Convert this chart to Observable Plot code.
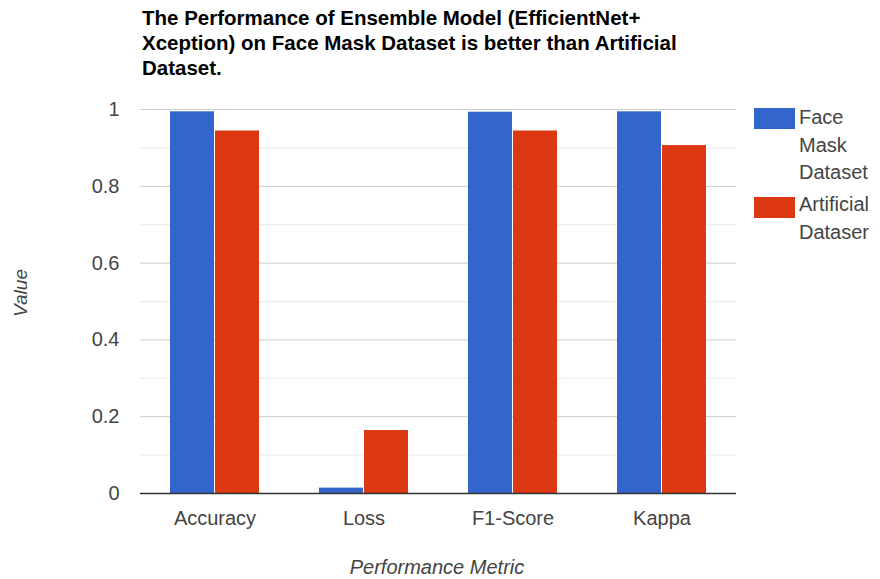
<!DOCTYPE html>
<html>
<head>
<meta charset="utf-8">
<script src="https://cdn.jsdelivr.net/npm/d3@7"></script>
<script src="https://cdn.jsdelivr.net/npm/@observablehq/plot@0.6"></script>
<style>
  html, body { margin: 0; padding: 0; background: #fff; }
  #wrap { position: relative; width: 880px; height: 579px; font-family: Arial, "Liberation Sans", sans-serif; }
  #chart { position: absolute; left: 0; top: 0; }
  .title { position: absolute; left: 142px; top: 5px; font-size: 20.5px; font-weight: bold; line-height: 25px; color: #000; white-space: nowrap; }
  .leg-sw { position: absolute; width: 41px; height: 21px; }
  .leg-tx { position: absolute; left: 799px; font-size: 20px; line-height: 27.5px; color: #444; white-space: nowrap; }
  .ylab { position: absolute; left: 21px; top: 293px; font-size: 19px; font-style: italic; color: #444; transform: translate(-50%, -50%) rotate(-90deg); white-space: nowrap; }
  .xlab { position: absolute; left: 437px; top: 557px; font-size: 20px; line-height: 20px; font-style: italic; color: #444; transform: translateX(-50%); white-space: nowrap; }
</style>
</head>
<body>
<div id="wrap">
  <div id="chart"></div>
</div>
<script>
const metrics = ["Accuracy", "Loss", "F1-Score", "Kappa"];
const seriesNames = ["Face Mask Dataset", "Artificial Dataser"];
const faceMaskValues = [0.994, 0.014, 0.993, 0.994];
const artificialValues = [0.944, 0.164, 0.944, 0.906];
const yTicks = [0, 0.2, 0.4, 0.6, 0.8, 1];
const yMinorTicks = [0.1, 0.3, 0.5, 0.7, 0.9];
const colors = ["#3366cc", "#dc3912"];

const data = [];
metrics.forEach((m, i) => {
  data.push({metric: m, series: seriesNames[0], value: faceMaskValues[i]});
  data.push({metric: m, series: seriesNames[1], value: artificialValues[i]});
});

const chart = Plot.plot({
  width: 880,
  height: 579,
  marginTop: 109,
  marginBottom: 86,
  marginLeft: 138,
  marginRight: 143,
  style: {fontSize: "20px", fontFamily: "Arial, 'Liberation Sans', sans-serif", color: "#444", background: "transparent"},
  fx: {domain: metrics, padding: 0, axis: "bottom", label: null, tickSize: 0, tickPadding: 17},
  x: {domain: seriesNames, axis: null, paddingInner: 0.033, paddingOuter: 0.64},
  y: {domain: [0, 1], ticks: yTicks, tickFormat: d => String(d), tickSize: 0, tickPadding: 21, label: null},
  color: {domain: seriesNames, range: colors},
  marks: [
    Plot.ruleY(yMinorTicks, {stroke: "#ebebeb", strokeWidth: 1}),
    Plot.ruleY(yTicks.filter(d => d > 0), {stroke: "#cccccc", strokeWidth: 1}),
    Plot.barY(data, {fx: "metric", x: "series", y: "value", fill: "series"}),
    Plot.ruleY([0], {stroke: "#333333", strokeWidth: 1.5})
  ]
});
document.getElementById("chart").appendChild(chart);

const wrap = document.getElementById("wrap");
function addDiv(cls, html, styles) {
  const d = document.createElement("div");
  d.className = cls;
  d.innerHTML = html;
  Object.assign(d.style, styles || {});
  wrap.appendChild(d);
  return d;
}
addDiv("title", "The Performance of Ensemble Model (EfficientNet+<br>Xception) on Face Mask Dataset is better than Artificial<br>Dataset.");
addDiv("leg-sw", "", {left: "754px", top: "108px", background: colors[0]});
addDiv("leg-tx", "Face<br>Mask<br>Dataset", {top: "104px"});
addDiv("leg-sw", "", {left: "754px", top: "197px", background: colors[1]});
addDiv("leg-tx", "Artificial<br>Dataser", {top: "191px"});
addDiv("ylab", "Value");
addDiv("xlab", "Performance Metric");
</script>
</body>
</html>
